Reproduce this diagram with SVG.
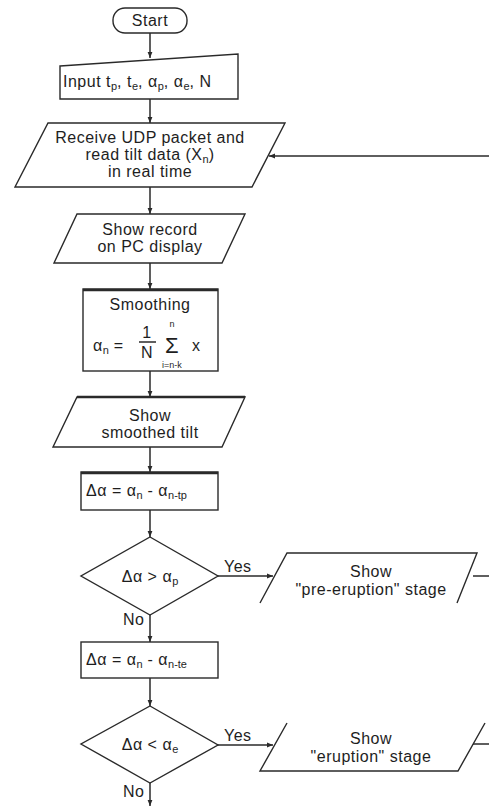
<svg xmlns="http://www.w3.org/2000/svg" width="489" height="809" viewBox="0 0 489 809">
<defs>
<marker id="ah" viewBox="0 0 10 10" refX="10" refY="5" markerWidth="6" markerHeight="6" markerUnits="userSpaceOnUse" orient="auto">
<path d="M0,1 L10,5 L0,9 z" fill="#2a2a2a"/>
</marker>
<style>
.s{fill:#fff;stroke:#2a2a2a;stroke-width:1.4;stroke-linejoin:miter}
.o{fill:none;stroke:#2a2a2a;stroke-width:1.4}
.t{stroke:#2a2a2a;stroke-width:2.6;fill:none}
.c{fill:none;stroke:#2a2a2a;stroke-width:1.5;marker-end:url(#ah)}
.l{fill:none;stroke:#2a2a2a;stroke-width:1.5}
text{font-family:"Liberation Sans",Arial,sans-serif;font-size:16px;letter-spacing:0.5px;fill:#1e1e1e}
.m{text-anchor:middle}
.sub{font-size:11px;letter-spacing:0}
.sm{font-size:9px;letter-spacing:0}
</style>
</defs>
<rect width="489" height="809" fill="#fff"/>

<g id="connectors">
<line class="c" x1="150" y1="33" x2="150" y2="58"/>
<line class="c" x1="150" y1="99" x2="150" y2="123"/>
<line class="c" x1="489" y1="156" x2="269" y2="156"/>
<line class="c" x1="150" y1="187" x2="150" y2="214"/>
<line class="c" x1="150" y1="263" x2="150" y2="289"/>
<line class="c" x1="150" y1="371" x2="150" y2="397"/>
<line class="c" x1="150" y1="447" x2="150" y2="472"/>
<line class="c" x1="150" y1="510" x2="150" y2="537"/>
<line class="c" x1="218" y1="576" x2="273" y2="576"/>
<line class="l" x1="473" y1="576" x2="489" y2="576"/>
<line class="c" x1="150" y1="615" x2="150" y2="642"/>
<line class="c" x1="150" y1="678" x2="150" y2="706"/>
<line class="c" x1="218" y1="745" x2="273" y2="745"/>
<line class="l" x1="473" y1="744" x2="489" y2="744"/>
<line class="c" x1="150" y1="783" x2="150" y2="806"/>
<text x="224" y="572">Yes</text>
<text x="123" y="625">No</text>
<text x="224" y="741">Yes</text>
<text x="123" y="797">No</text>
</g>

<g id="start">
<rect class="s" x="113" y="8" width="74" height="25" rx="12" ry="12"/>
<text class="m" x="150" y="26">Start</text>
</g>

<g id="input">
<polygon class="s" points="60,66 238,54 238,99 60,99"/>
<text x="63" y="87">Input t<tspan class="sub" dy="3">p</tspan><tspan dy="-3">, t</tspan><tspan class="sub" dy="3">e</tspan><tspan dy="-3">, α</tspan><tspan class="sub" dy="3">p</tspan><tspan dy="-3">, α</tspan><tspan class="sub" dy="3">e</tspan><tspan dy="-3">, N</tspan></text>
</g>

<g id="receive">
<polygon class="s" points="48,123 285,123 252,187 15,187"/>
<text class="m" x="150" y="143">Receive UDP packet and</text>
<text class="m" x="150" y="160">read tilt data (X<tspan class="sub" dy="3">n</tspan><tspan dy="-3">)</tspan></text>
<text class="m" x="150" y="177">in real time</text>
</g>

<g id="showrecord">
<polygon class="s" points="77,214 245,214 222,263 54,263"/>
<text class="m" x="150" y="235">Show record</text>
<text class="m" x="150" y="252">on PC display</text>
</g>

<g id="smoothing">
<rect class="s" x="83" y="289" width="135" height="82"/>
<line class="t" x1="83" y1="290" x2="218" y2="290"/>
<text class="m" x="150" y="310">Smoothing</text>
<text x="93" y="351">α<tspan class="sub" dy="3">n</tspan><tspan dy="-3"> =</tspan></text>
<text class="m" x="147" y="338">1</text>
<line class="l" x1="139" y1="342" x2="156" y2="342"/>
<text class="m" x="147" y="358">N</text>
<text class="m" x="172" y="353" style="font-size:22px">Σ</text>
<text class="m sm" x="172" y="327">n</text>
<text class="m sm" x="172" y="368">i=n-k</text>
<text x="192" y="351">x</text>
</g>

<g id="showsmoothed">
<polygon class="s" points="77,397 245,397 222,447 53,447"/>
<line class="t" x1="77" y1="397" x2="245" y2="397"/>
<text class="m" x="150" y="421">Show</text>
<text class="m" x="150" y="438">smoothed tilt</text>
</g>

<g id="delta1">
<rect class="s" x="81" y="472" width="137" height="38"/>
<line class="t" x1="81" y1="473" x2="218" y2="473"/>
<text x="86" y="496">Δα = α<tspan class="sub" dy="3">n</tspan><tspan dy="-3"> - α</tspan><tspan class="sub" dy="3">n-tp</tspan></text>
</g>

<g id="decision1">
<polygon class="s" points="150,537 218,576 150,615 81,576"/>
<text class="m" x="150" y="582">Δα &gt; α<tspan class="sub" dy="3">p</tspan></text>
</g>

<g id="preeruption">
<polyline class="o" points="260,603 287,553 477,553 457,603"/>
<text class="m" x="371" y="577">Show</text>
<text class="m" x="371" y="595">"pre-eruption" stage</text>
</g>

<g id="delta2">
<rect class="s" x="81" y="642" width="137" height="36"/>
<text x="86" y="665">Δα = α<tspan class="sub" dy="3">n</tspan><tspan dy="-3"> - α</tspan><tspan class="sub" dy="3">n-te</tspan></text>
</g>

<g id="decision2">
<polygon class="s" points="150,706 218,745 150,783 81,744"/>
<text class="m" x="150" y="750">Δα &lt; α<tspan class="sub" dy="3">e</tspan></text>
</g>

<g id="eruption">
<polyline class="o" points="287,723 260,771 458,771 485,723"/>
<text class="m" x="371" y="744">Show</text>
<text class="m" x="371" y="762">"eruption" stage</text>
</g>
</svg>
